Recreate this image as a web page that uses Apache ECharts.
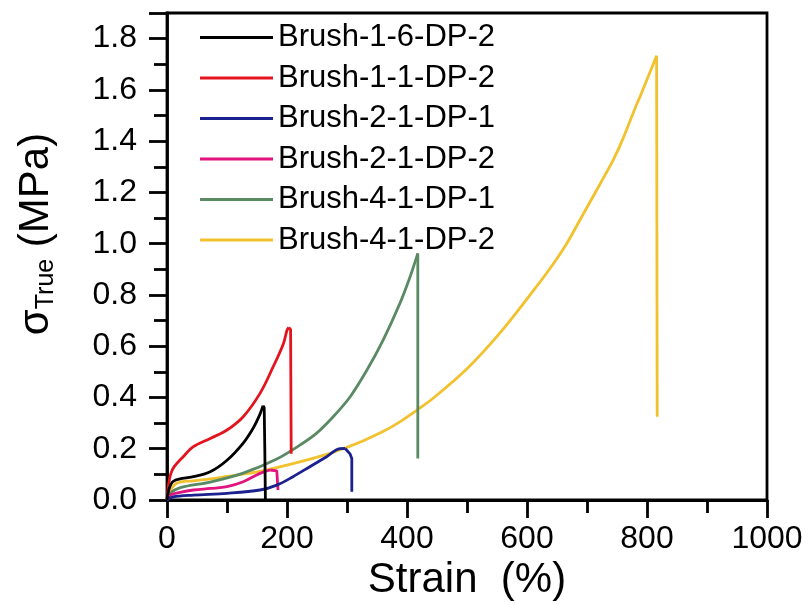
<!DOCTYPE html>
<html>
<head>
<meta charset="utf-8">
<script src="https://cdn.jsdelivr.net/npm/echarts@6/dist/echarts.min.js"></script>
<style>
  html, body { margin: 0; padding: 0; background: #fff; }
  #chart { width: 810px; height: 605px; }
</style>
</head>
<body>
<div id="chart"></div>
<script>
// strain (%), true stress (MPa)
const brush_1_6_dp2 = [[0, 0], [3, 0.04], [10, 0.072], [25, 0.084], [44, 0.091], [72, 0.11], [100, 0.155], [127, 0.222], [144, 0.282], [155, 0.335], [160, 0.368], [162, 0.36], [163, 0.2], [164, 0]];
const brush_1_1_dp2 = [[0, 0], [2, 0.05], [6, 0.1], [12, 0.13], [27, 0.169], [44, 0.208], [72, 0.24], [100, 0.273], [127, 0.325], [155, 0.416], [177, 0.52], [194, 0.61], [200, 0.662], [203, 0.673], [206, 0.665], [207, 0.18]];
const brush_2_1_dp1 = [[0, 0], [10, 0.012], [44, 0.019], [100, 0.026], [155, 0.039], [183, 0.058], [210, 0.091], [238, 0.13], [266, 0.169], [288, 0.2], [297, 0.201], [305, 0.18], [308, 0.162], [308, 0.032]];
const brush_2_1_dp2 = [[0, 0], [5, 0.019], [22, 0.03], [44, 0.039], [72, 0.045], [100, 0.052], [127, 0.071], [155, 0.104], [172, 0.117], [183, 0.114], [185, 0.039]];
const brush_4_1_dp1 = [[0, 0], [5, 0.025], [22, 0.048], [72, 0.07], [127, 0.105], [183, 0.16], [222, 0.215], [249, 0.26], [277, 0.325], [305, 0.402], [333, 0.506], [360, 0.623], [388, 0.766], [405, 0.87], [418, 0.962], [418, 0.162]];
const brush_4_1_dp2 = [[0, 0], [4, 0.03], [16, 0.065], [44, 0.075], [72, 0.082], [100, 0.092], [155, 0.112], [210, 0.142], [266, 0.178], [305, 0.21], [322, 0.226], [360, 0.267], [388, 0.305], [416, 0.35], [444, 0.398], [500, 0.512], [555, 0.652], [611, 0.818], [638, 0.902], [666, 1.0], [694, 1.117], [722, 1.234], [744, 1.328], [760, 1.41], [783, 1.545], [788, 1.571], [816, 1.733], [817, 0.325]];

const seriesNames = ['Brush-1-6-DP-2', 'Brush-1-1-DP-2', 'Brush-2-1-DP-1', 'Brush-2-1-DP-2', 'Brush-4-1-DP-1', 'Brush-4-1-DP-2'];
const seriesData = [brush_1_6_dp2, brush_1_1_dp2, brush_2_1_dp1, brush_2_1_dp2, brush_4_1_dp1, brush_4_1_dp2];
const colors = ['#000000', '#e3141e', '#1c2190', '#e2137f', '#5a8a64', '#f2c12e'];

const xTicks = [0, 200, 400, 600, 800, 1000];
const yTicks = [0, 0.2, 0.4, 0.6, 0.8, 1.0, 1.2, 1.4, 1.6, 1.8];

const font = 'Liberation Sans, Arial, sans-serif';
const tickStyle = { color: '#000', width: 2.8 };

// each sample: smooth loading part up to the peak, then the straight break-down drop
const series = [];
seriesData.forEach((data, i) => {
  let peak = 0;
  data.forEach((p, j) => { if (p[1] > data[peak][1]) peak = j; });
  const base = {
    name: seriesNames[i],
    type: 'line',
    showSymbol: false,
    symbol: 'none',
    color: colors[i],
    lineStyle: { color: colors[i], width: 2.8 },
    z: 10 - i,
  };
  series.push({ ...base, data: data.slice(0, peak + 1), smooth: 0.35 });
  series.push({ ...base, data: data.slice(peak) });
});

const chart = echarts.init(document.getElementById('chart'));

chart.setOption({
  animation: false,
  grid: {
    left: 167,
    right: 43,
    top: 13,
    bottom: 105,
    outerBoundsMode: 'none',
    show: true,
    borderColor: '#000',
    borderWidth: 2.8,
  },
  legend: {
    orient: 'vertical',
    left: 200,
    top: 22,
    padding: 0,
    icon: 'rect',
    itemWidth: 73,
    itemHeight: 3,
    itemGap: 9.5,
    textStyle: {
      fontFamily: font,
      fontSize: 31,
      color: '#000',
      lineHeight: 30,
    },
    data: seriesNames,
  },
  graphic: [
    {
      type: 'text',
      x: 36,
      y: 234,
      rotation: Math.PI / 2,
      style: {
        text: '{a|σ}{b|True}{a| (MPa)}',
        align: 'center',
        verticalAlign: 'middle',
        rich: {
          a: { fontFamily: font, fontSize: 42, fill: '#000' },
          b: { fontFamily: font, fontSize: 25, fill: '#000', padding: [20, 0, 0, 0] },
        },
      },
    },
  ],
  xAxis: {
    type: 'value',
    min: xTicks[0],
    max: xTicks[xTicks.length - 1],
    interval: 200,
    name: 'Strain  (%)',
    nameLocation: 'middle',
    nameGap: 59,
    nameTextStyle: { fontFamily: font, fontSize: 42, color: '#000' },
    axisLine: { lineStyle: tickStyle },
    axisTick: { show: true, inside: false, length: 18, lineStyle: tickStyle },
    minorTick: { show: true, splitNumber: 2, length: 13, lineStyle: tickStyle },
    axisLabel: { fontFamily: font, fontSize: 32, color: '#000', margin: 23, formatter: (v) => String(v) },
    splitLine: { show: false },
  },
  yAxis: {
    type: 'value',
    min: yTicks[0],
    max: 1.9,
    interval: 0.2,
    axisLine: { lineStyle: tickStyle },
    axisTick: { show: true, inside: false, length: 18, lineStyle: tickStyle },
    minorTick: { show: true, splitNumber: 2, length: 13, lineStyle: tickStyle },
    axisLabel: {
      fontFamily: font,
      fontSize: 32,
      color: '#000',
      margin: 30,
      showMaxLabel: false,
      formatter: (v) => v.toFixed(1),
    },
    splitLine: { show: false },
  },
  series,
});
</script>
</body>
</html>
